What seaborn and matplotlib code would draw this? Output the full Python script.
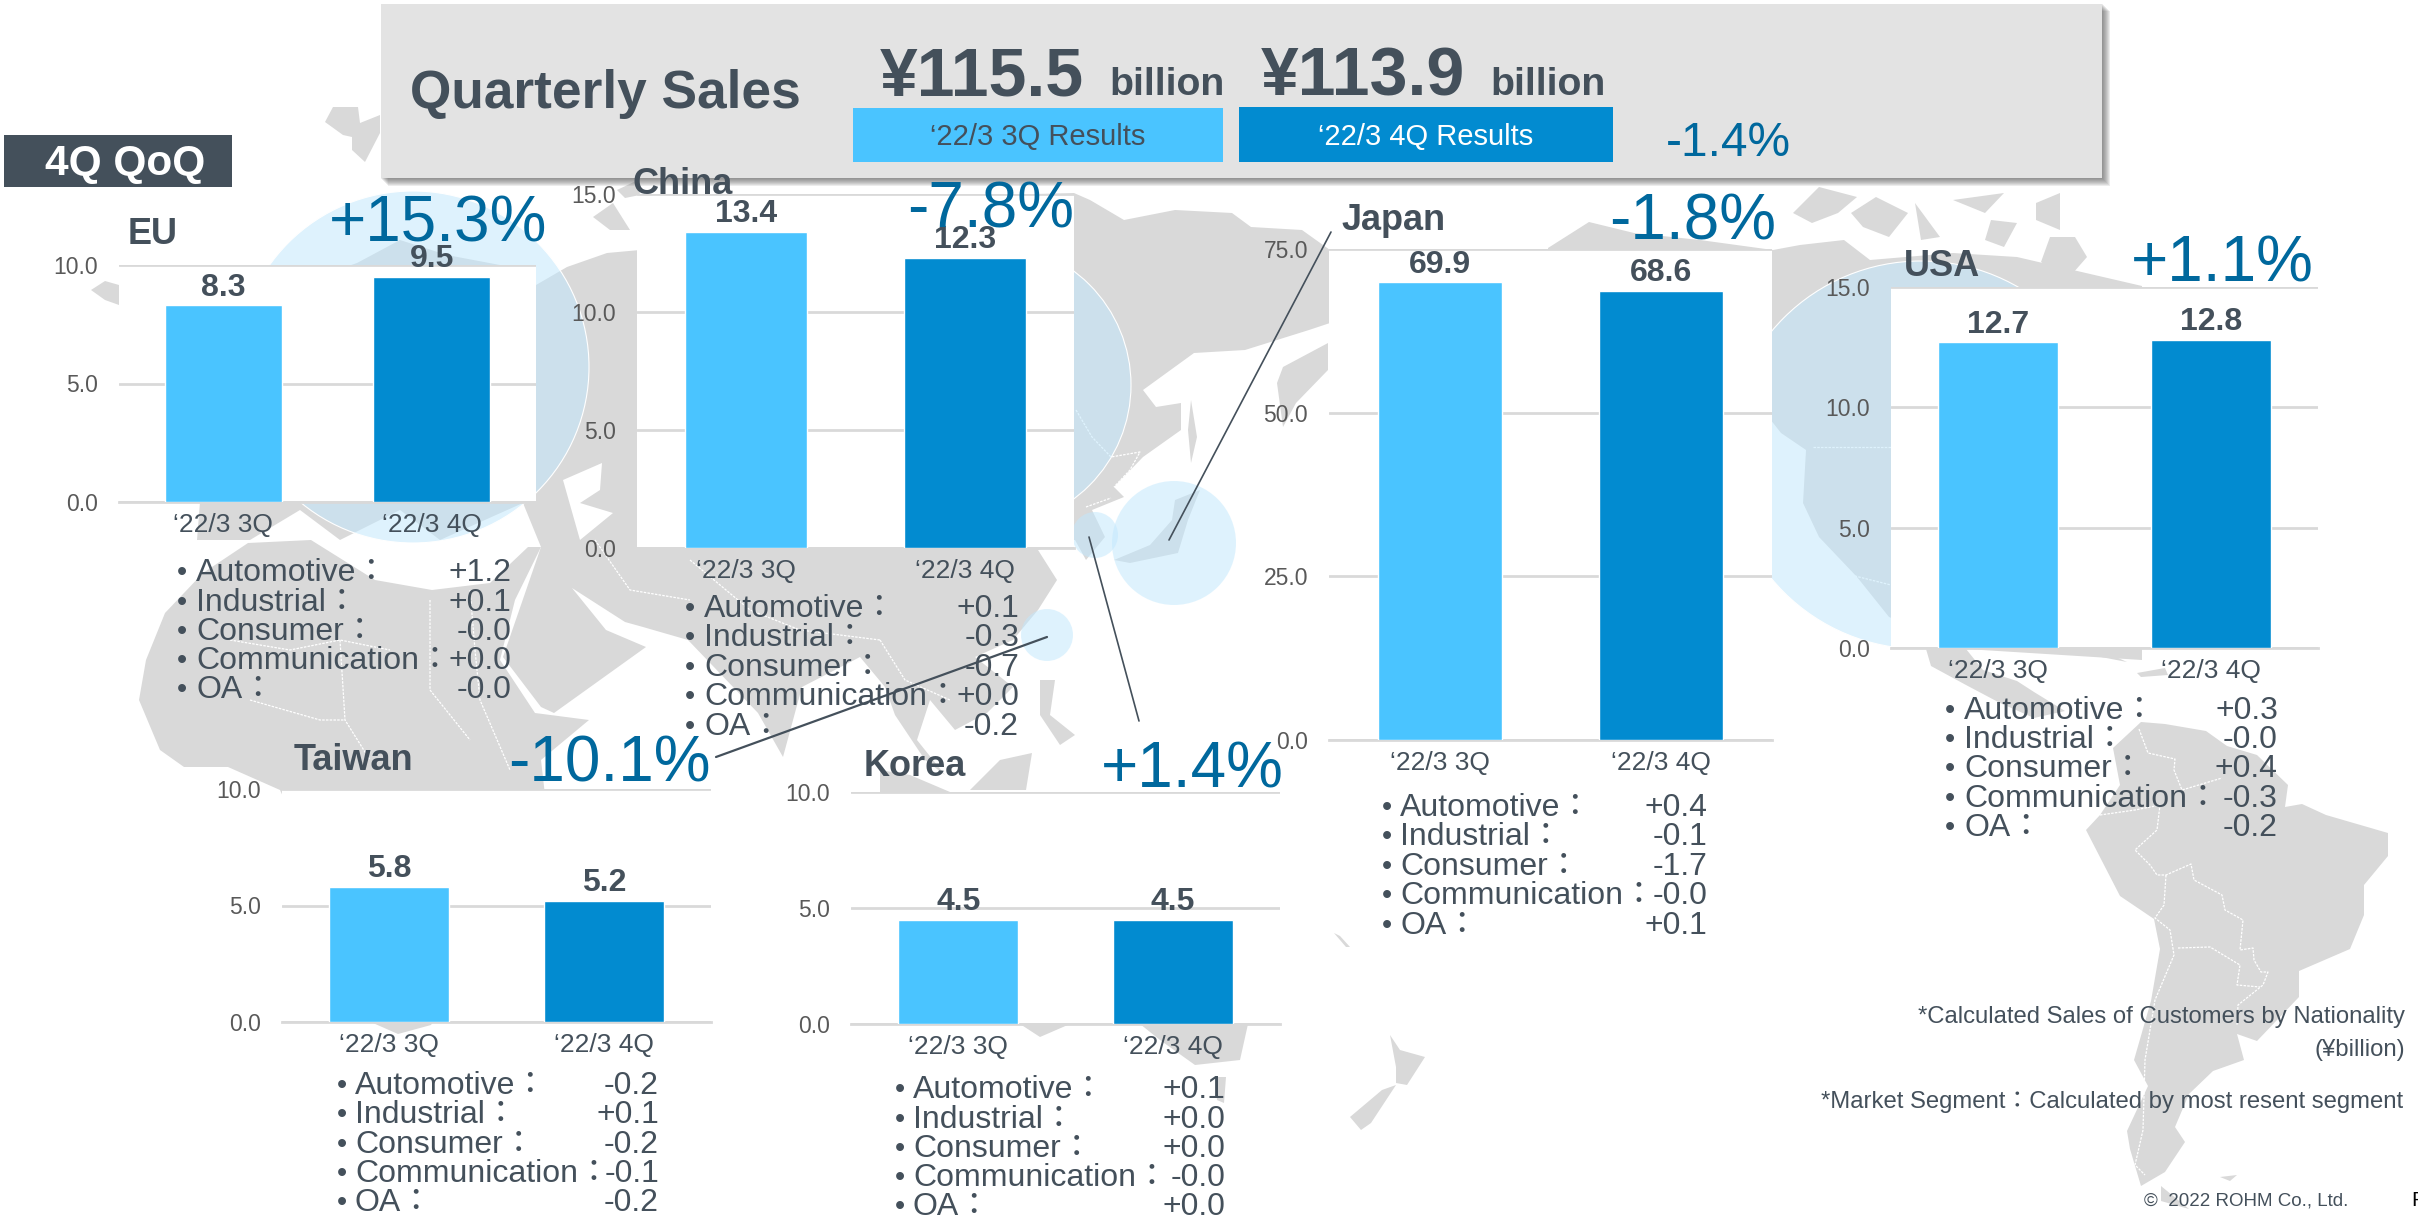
import matplotlib
matplotlib.use("Agg")
import matplotlib.pyplot as plt
import seaborn as sns
from matplotlib.patches import Circle, Polygon, Rectangle

# Chart values
quarters = ["\u201822/3 3Q", "\u201822/3 4Q"]
segments = ["Automotive\uff1a", "Industrial\uff1a", "Consumer\uff1a", "Communication\uff1a", "OA\uff1a"]

eu_sales = [8.3, 9.5]
china_sales = [13.4, 12.3]
japan_sales = [69.9, 68.6]
usa_sales = [12.7, 12.8]
taiwan_sales = [5.8, 5.2]
korea_sales = [4.5, 4.5]

eu_ticks = [0, 5, 10]
china_ticks = [0, 5, 10, 15]
japan_ticks = [0, 25, 50, 75]
usa_ticks = [0, 5, 10, 15]
taiwan_ticks = [0, 5, 10]
korea_ticks = [0, 5, 10]

eu_segments = ["+1.2", "+0.1", "-0.0", "+0.0", "-0.0"]
china_segments = ["+0.1", "-0.3", "-0.7", "+0.0", "-0.2"]
japan_segments = ["+0.4", "-0.1", "-1.7", "-0.0", "+0.1"]
usa_segments = ["+0.3", "-0.0", "+0.4", "-0.3", "-0.2"]
taiwan_segments = ["-0.2", "+0.1", "-0.2", "-0.1", "-0.2"]
korea_segments = ["+0.1", "+0.0", "+0.0", "-0.0", "+0.0"]

W, H = 2418, 1216
LIGHT = "#4ac4ff"
DARK = "#028bd0"
TEXT = "#44505b"
TICK = "#595959"
PCT = "#00689d"
LAND = "#d9d9d9"
GRID = "#d9d9d9"

sns.set_theme(style="white")
# TC has the fullwidth colon centred, like the reference
plt.rcParams["font.family"] = ["Liberation Sans", "Noto Sans CJK TC"]

fig = plt.figure(figsize=(W / 100, H / 100), dpi=100, facecolor="white")


def full_axes(zorder):
    ax = fig.add_axes([0, 0, 1, 1], zorder=zorder)
    ax.set_xlim(0, W)
    ax.set_ylim(H, 0)
    ax.axis("off")
    ax.patch.set_alpha(0)
    return ax


back = full_axes(0)
front = full_axes(5)

# Rough world map behind the panels, in pixels
land = [
    # Eurasia
    [(357, 263), (400, 240), (447, 255), (500, 265), (536, 285), (567, 267), (607, 253), (640, 250), (800, 200),
     (1074, 193), (1090, 200), (1124, 220), (1175, 210), (1232, 213), (1251, 227), (1302, 230), (1330, 250),
     (1330, 323), (1309, 330), (1245, 350), (1194, 353), (1143, 390), (1156, 407), (1181, 403), (1181, 430),
     (1143, 457), (1114, 487), (1124, 497), (1092, 510), (1105, 537), (1086, 560), (1075, 540), (1065, 540),
     (1038, 550), (1057, 580), (1038, 610), (1013, 640), (975, 657), (1013, 687), (987, 713), (955, 730),
     (930, 700), (917, 740), (945, 775), (925, 760), (895, 715), (885, 687), (860, 657), (802, 687), (783, 757),
     (758, 713), (688, 640), (643, 627), (625, 622), (572, 588), (606, 630), (646, 647), (554, 713), (541, 707),
     (503, 657), (541, 547), (523, 503), (440, 540), (400, 510), (340, 540), (300, 510), (250, 540), (197, 540),
     (200, 502), (119, 480), (119, 310), (250, 300)],
    # Africa
    [(139, 700), (146, 660), (165, 613), (203, 573), (248, 543), (311, 540), (375, 580), (432, 590), (490, 583),
     (528, 547), (541, 547), (515, 600), (500, 660), (535, 713), (589, 720), (541, 760), (545, 795), (480, 950),
     (431, 1025), (398, 1034), (373, 1023), (330, 900), (280, 790), (228, 767), (184, 767), (160, 750)],
    # UK, Scandinavia and arctic bits
    [(91, 290), (105, 281), (119, 285), (119, 305), (105, 300)],
    [(325, 122), (333, 107), (358, 107), (360, 123), (380, 115), (380, 133), (365, 162), (352, 150), (352, 137), (343, 135)],
    [(593, 217), (613, 203), (630, 230), (610, 230)],
    [(617, 190), (638, 180), (640, 195), (625, 198)],
    # South East Asia
    [(1040, 680), (1055, 680), (1050, 715), (1075, 735), (1060, 745), (1040, 715)],
    [(1000, 760), (1032, 753), (1026, 790), (970, 790)],
    [(880, 770), (910, 775), (950, 792), (880, 792)],
    # Australia, Tasmania and New Zealand
    [(1020, 1024), (1070, 1024), (1040, 1037)],
    [(1140, 1024), (1248, 1024), (1240, 1060), (1195, 1065), (1160, 1040)],
    [(1215, 1077), (1226, 1077), (1224, 1103), (1217, 1100)],
    [(1390, 1035), (1400, 1050), (1425, 1057), (1407, 1085), (1396, 1083), (1396, 1067)],
    [(1396, 1085), (1371, 1123), (1361, 1130), (1350, 1117), (1382, 1090)],
    [(1334, 933), (1340, 936), (1350, 947), (1346, 947)],
    # Japan, Sakhalin and Kamchatka
    [(1175, 500), (1200, 490), (1188, 520), (1178, 553), (1130, 563), (1114, 560), (1150, 545), (1172, 520)],
    [(1191, 400), (1197, 437), (1191, 463), (1188, 430)],
    [(1328, 343), (1328, 370), (1296, 403), (1283, 427), (1277, 383), (1283, 367)],
    # North America
    [(1548, 248), (1589, 222), (1634, 233), (1700, 240), (1773, 250), (1800, 245), (1844, 240), (1870, 260),
     (1953, 253), (2017, 257), (2060, 267), (2142, 286), (2142, 660), (1966, 649), (1889, 617), (1857, 577),
     (1819, 537), (1803, 503), (1806, 450), (1781, 433), (1700, 330), (1548, 330)],
    [(1793, 213), (1819, 187), (1857, 197), (1838, 213), (1812, 223)],
    [(1851, 213), (1876, 197), (1908, 213), (1889, 237), (1863, 227)],
    [(1915, 203), (1940, 237), (1921, 240)],
    [(1953, 200), (2004, 193), (1985, 213)],
    [(1991, 220), (2017, 223), (2004, 247), (1985, 240)],
    [(2036, 203), (2060, 193), (2060, 230), (2036, 220)],
    [(2050, 237), (2075, 237), (2087, 257), (2066, 281), (2041, 262)],
    # Central America and the Caribbean
    [(1926, 649), (1931, 666), (1966, 685), (2000, 703), (2034, 718), (2065, 711), (2034, 692), (2017, 681),
     (1983, 670), (1966, 649)],
    [(2058, 649), (2103, 651), (2127, 662), (2075, 652)],
    [(2137, 673), (2165, 668), (2168, 675), (2141, 677)],
    # South America
    [(2141, 722), (2165, 724), (2206, 731), (2227, 746), (2257, 755), (2288, 785), (2285, 807), (2302, 804),
     (2326, 815), (2388, 833), (2388, 856), (2364, 885), (2364, 915), (2350, 949), (2299, 971), (2299, 997),
     (2257, 1041), (2237, 1034), (2244, 1060), (2213, 1071), (2189, 1094), (2175, 1127), (2185, 1142),
     (2165, 1172), (2141, 1186), (2130, 1149), (2127, 1131), (2148, 1086), (2134, 1060), (2151, 1001),
     (2160, 949), (2154, 919), (2120, 896), (2086, 830), (2100, 815), (2120, 785), (2113, 748)],
    [(2161, 1186), (2189, 1209), (2161, 1201)],
    [(2220, 1177), (2237, 1175), (2230, 1181)],
]
for shape in land:
    back.add_patch(Polygon(shape, closed=True, facecolor=LAND, edgecolor="none", zorder=1))

# Caspian Sea
back.add_patch(Polygon([(563, 480), (602, 463), (600, 490), (580, 503), (613, 513), (580, 540)],
                       closed=True, facecolor="white", edgecolor="none", zorder=1.1))

borders = [
    [(2139, 729), (2148, 753), (2175, 759), (2174, 770), (2182, 790), (2222, 778)],
    [(2100, 815), (2135, 810), (2160, 805), (2157, 830), (2135, 850), (2150, 865), (2157, 875), (2166, 875),
     (2191, 864), (2194, 880), (2222, 895), (2225, 910), (2243, 920), (2240, 950), (2253, 948), (2254, 960),
     (2261, 972), (2268, 972), (2263, 985), (2238, 1005), (2237, 1025)],
    [(2166, 875), (2164, 905), (2155, 918), (2170, 930), (2174, 955), (2155, 1000), (2145, 1060), (2143, 1130),
     (2135, 1165), (2145, 1175)],
    [(2178, 948), (2210, 947), (2240, 965), (2237, 985), (2260, 987)],
    [(230, 640), (290, 650), (340, 640), (390, 650)],
    [(340, 640), (345, 720), (370, 760)],
    [(250, 700), (320, 720), (345, 720)],
    [(430, 600), (430, 690), (470, 740)],
    [(470, 590), (475, 650), (480, 700), (510, 770)],
    [(595, 540), (630, 590), (690, 600)],
    [(690, 560), (750, 610), (800, 630), (880, 640)],
    [(880, 640), (905, 680), (950, 700)],
    [(1076, 410), (1092, 437), (1111, 457), (1140, 452), (1130, 470), (1114, 487)],
    [(1086, 507), (1111, 498)],
    [(1813, 447), (1891, 447)],
    [(1851, 575), (1891, 585)],
]
for line in borders:
    back.plot([p[0] for p in line], [p[1] for p in line], color="white", lw=0.9, ls=(0, (2, 1)), zorder=1.2)

# Bubbles on the map
for cx, cy, r in [(413, 367, 176), (989, 385, 142), (1921, 455, 194), (1174, 543, 62), (1047, 635, 26), (1095, 535, 23)]:
    back.add_patch(Circle((cx, cy), r, facecolor="#c2e8fd", alpha=0.53, edgecolor="none", zorder=2))
    if r > 100:
        back.add_patch(Circle((cx, cy), r, facecolor="none", edgecolor="white", lw=0.8, zorder=2.1))

# Header box with its soft shadow
for i in range(8):
    back.add_patch(Rectangle((381 + i, 4 + i), 1722, 175, facecolor="#555555", alpha=0.11,
                             edgecolor="none", zorder=3))
back.add_patch(Rectangle((381, 4), 1721, 174, facecolor="#e3e3e3", edgecolor="none", zorder=3.5))

back.add_patch(Rectangle((4, 135), 228, 52, facecolor="#44505b", edgecolor="none", zorder=3.5))
back.add_patch(Rectangle((853, 108), 370, 54, facecolor=LIGHT, edgecolor="none", zorder=4))
back.add_patch(Rectangle((1239, 107), 374, 55, facecolor=DARK, edgecolor="none", zorder=4))


def draw_panel(box, values, ticks, name, name_xy, pct, pct_xy, seg_vals, seg_x, seg_y, val_right):
    left, top, right, bottom = box
    ax = fig.add_axes([left / W, 1 - bottom / H, (right - left) / W, (bottom - top) / H], zorder=3)
    sns.barplot(x=quarters, y=values, hue=quarters, palette=[LIGHT, DARK], width=0.56, legend=False,
                saturation=1, ax=ax, zorder=3)
    ax.set_facecolor("white")
    ax.set_ylim(0, ticks[-1])
    ax.set_yticks(ticks)
    ax.set_yticklabels([f"{t:.1f}" for t in ticks], fontsize=16.5, color=TICK)
    ax.tick_params(axis="y", length=0, pad=15)
    ax.tick_params(axis="x", length=0, pad=8, labelsize=19, labelcolor=TEXT)
    ax.set_xlabel("")
    ax.set_ylabel("")
    ax.set_axisbelow(True)
    ax.yaxis.grid(True, color=GRID, lw=2)
    ax.xaxis.grid(False)
    for side in ["top", "left", "right"]:
        ax.spines[side].set_visible(False)
    ax.spines["bottom"].set_color(GRID)
    ax.spines["bottom"].set_linewidth(2)
    for container in ax.containers:
        ax.bar_label(container, fmt="%.1f", padding=2, fontsize=23, fontweight="bold", color=TEXT)

    front.text(name_xy[0], name_xy[1] + 4, name, fontsize=26, fontweight="bold", color=TEXT, ha="left", va="center")
    front.text(pct_xy[0], pct_xy[1] + 5, pct, fontsize=46, color=PCT, ha="right", va="center")

    bullet_x, text_x = seg_x
    for label, val, y in zip(segments, seg_vals, seg_y):
        front.text(bullet_x, y + 3, "\u2022", fontsize=21, color=TEXT, ha="center", va="center")
        front.text(text_x, y + 3, label, fontsize=23, color=TEXT, ha="left", va="center")
        front.text(val_right, y + 3, val, fontsize=23, color=TEXT, ha="right", va="center")


draw_panel((119, 265, 536, 502), eu_sales, eu_ticks, "EU", (128, 230), "+15.3%", (547, 220),
           eu_segments, (182, 196), [570, 600, 629, 658, 687], 511)
draw_panel((637, 194, 1074, 548), china_sales, china_ticks, "China", (632, 180), "-7.8%", (1074, 206),
           china_segments, (690, 704), [606, 635, 665, 694, 724], 1019)
draw_panel((1329, 249, 1772, 740), japan_sales, japan_ticks, "Japan", (1342, 217), "-1.8%", (1776, 218),
           japan_segments, (1387, 1400), [805, 834, 864, 893, 923], 1707)
draw_panel((1891, 287, 2318, 648), usa_sales, usa_ticks, "USA", (1904, 262), "+1.1%", (2314, 260),
           usa_segments, (1950, 1964), [708, 737, 766, 796, 825], 2278)
draw_panel((282, 789, 711, 1022), taiwan_sales, taiwan_ticks, "Taiwan", (294, 757), "-10.1%", (711, 760),
           taiwan_segments, (342, 355), [1083, 1112, 1142, 1171, 1200], 659)
draw_panel((851, 792, 1280, 1024), korea_sales, korea_ticks, "Korea", (864, 762), "+1.4%", (1284, 765),
           korea_segments, (900, 913), [1087, 1117, 1146, 1175, 1204], 1225)

# Leader lines from the bubbles to the panels
front.plot([1331, 1169], [232, 540], color=TEXT, lw=1.2)
front.plot([1047, 716], [637, 757], color=TEXT, lw=1.6)
front.plot([1089, 1139], [537, 721], color=TEXT, lw=1.2)

# Header text
front.text(125, 164, "4Q QoQ", fontsize=30.5, fontweight="bold", color="white", ha="center", va="center")
front.text(410, 94, "Quarterly Sales", fontsize=38.3, fontweight="bold", color=TEXT, ha="left", va="center")
front.text(880, 95, "\u00a5115.5", fontsize=49, fontweight="bold", color=TEXT, ha="left", va="baseline")
front.text(1109, 95, "billion", fontsize=28.3, fontweight="bold", color=TEXT, ha="left", va="baseline")
front.text(1261, 95, "\u00a5113.9", fontsize=49, fontweight="bold", color=TEXT, ha="left", va="baseline")
front.text(1490, 95, "billion", fontsize=28.3, fontweight="bold", color=TEXT, ha="left", va="baseline")
front.text(1038, 137, "\u201822/3 3Q Results", fontsize=21, color=TEXT, ha="center", va="center")
front.text(1426, 137, "\u201822/3 4Q Results", fontsize=21, color="white", ha="center", va="center")
front.text(1666, 143, "-1.4%", fontsize=34.5, color=PCT, ha="left", va="center")

# Footnotes
front.text(2405, 1017, "*Calculated Sales of Customers by Nationality", fontsize=17.2, color=TEXT, ha="right", va="center")
front.text(2405, 1050, "(\u00a5billion)", fontsize=17.2, color=TEXT, ha="right", va="center")
front.text(2403, 1102, "*Market Segment\uff1aCalculated by most resent segment", fontsize=17.2, color=TEXT, ha="right", va="center")
front.text(2144, 1201, "\u00a9  2022 ROHM Co., Ltd.", fontsize=13.5, color=TEXT, ha="left", va="center")
front.text(2411, 1200, "P", fontsize=15, color="black", ha="left", va="center")

fig.savefig("out.png", dpi=100)
